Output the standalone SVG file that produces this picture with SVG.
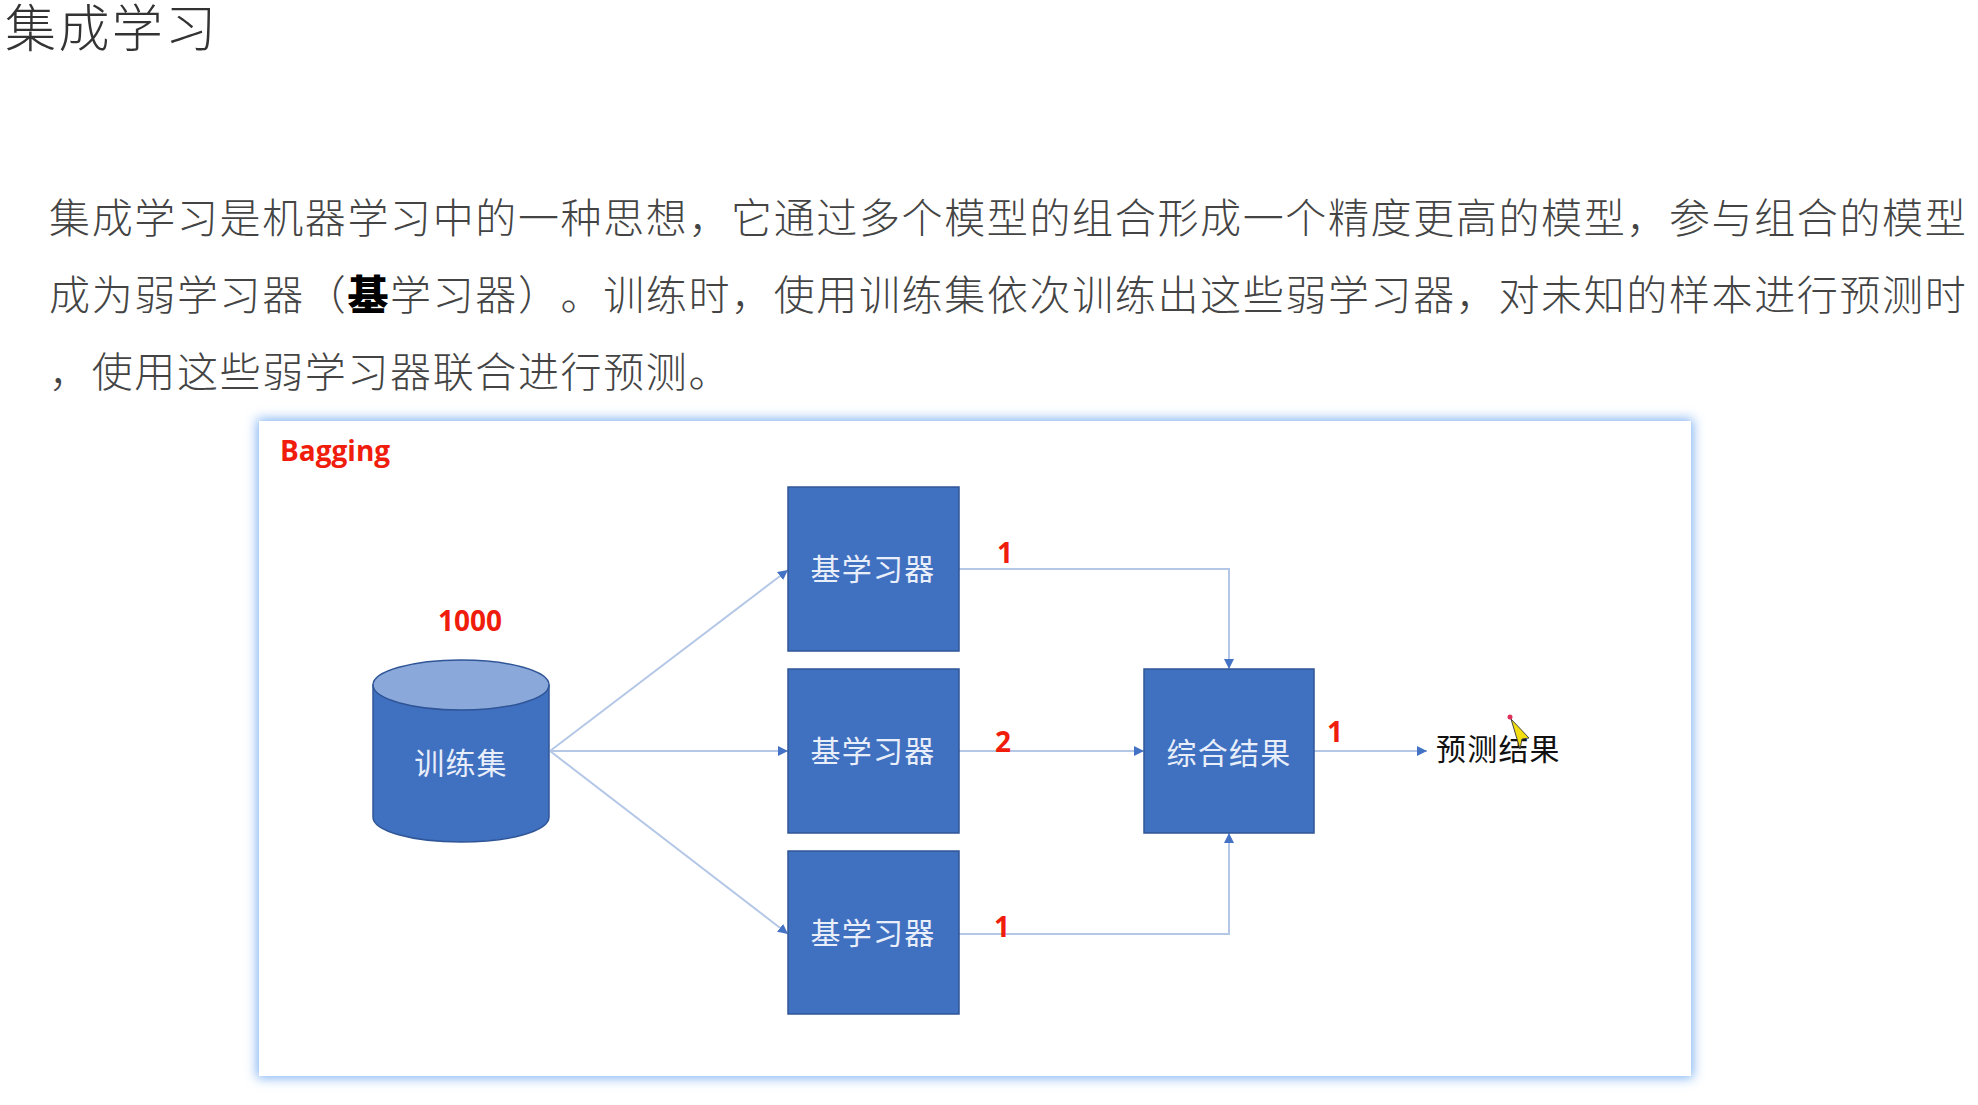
<svg xmlns="http://www.w3.org/2000/svg" width="1978" height="1105" viewBox="0 0 1978 1105">
<defs>
<filter id="glow" x="-5%" y="-8%" width="110%" height="116%"><feGaussianBlur stdDeviation="6"/></filter>
<marker id="arr" markerUnits="userSpaceOnUse" markerWidth="11" markerHeight="11" refX="10" refY="5" orient="auto"><path d="M0 0L10 5L0 10Z" fill="#4472c4"/></marker>
</defs>
<style>
text{font-family:"Noto Sans CJK SC","Liberation Sans",sans-serif;font-kerning:none;text-spacing-trim:space-all}
.body{font-size:41px;letter-spacing:1.63px;fill:#444;font-weight:300}
.box{fill:#4070c0;stroke:#2f5597;stroke-width:1.5}
.lbl{font-size:30px;fill:#e8eefa;text-anchor:middle;letter-spacing:1.2px}
.red{font-family:"Open Sans","Liberation Sans",sans-serif;font-size:28px;font-weight:700;fill:#f01c0c}
.con{fill:none;stroke:#b4c7e7;stroke-width:2;marker-end:url(#arr)}
</style>
<rect width="1978" height="1105" fill="#fff"/>
<text id="title" x="5" y="47" style="font-size:51px;letter-spacing:2.4px;fill:#333;font-weight:300">集成学习</text>
<g id="paragraph">
<text class="body" x="49" y="233">集成学习是机器学习中的一种思想，它通过多个模型的组合形成一个精度更高的模型，参与组合的模型</text>
<text class="body" x="49" y="310">成为弱学习器（<tspan style="font-weight:900;fill:#000">基</tspan>学习器）。训练时，使用训练集依次训练出这些弱学习器，对未知的样本进行预测时</text>
<text class="body" x="49" y="387">，使用这些弱学习器联合进行预测。</text>
</g>
<g id="panel">
<rect x="257" y="419" width="1436" height="659" fill="#7fb2f2" filter="url(#glow)"/>
<rect x="259" y="421" width="1432" height="655" fill="#fff"/>
<text class="red" x="280" y="461">Bagging</text>
</g>
<g id="connectors">
<path class="con" d="M550 751L788 570"/>
<path class="con" d="M550 751H788"/>
<path class="con" d="M550 751L788 934"/>
<path class="con" d="M959 569H1229V669"/>
<path class="con" d="M959 751H1144"/>
<path class="con" d="M959 934H1229V833"/>
<path class="con" d="M1314 751H1427"/>
</g>
<g id="n-train">
<path class="box" d="M373 685V817C373 831 412 842 461 842S549 831 549 817V685Z"/>
<ellipse cx="461" cy="685" rx="88" ry="25" fill="#8aa9da" stroke="#2f5597" stroke-width="1.5"/>
<text class="lbl" x="461" y="774">训练集</text>
<text class="red" x="470" y="631" text-anchor="middle">1000</text>
</g>
<g id="n-base1"><rect class="box" x="788" y="487" width="171" height="164"/><text class="lbl" x="873" y="580">基学习器</text></g>
<g id="n-base2"><rect class="box" x="788" y="669" width="171" height="164"/><text class="lbl" x="873" y="762">基学习器</text></g>
<g id="n-base3"><rect class="box" x="788" y="851" width="171" height="163"/><text class="lbl" x="873" y="944">基学习器</text></g>
<g id="n-merge"><rect class="box" x="1144" y="669" width="170" height="164"/><text class="lbl" x="1229" y="764">综合结果</text></g>
<g id="n-result"><text x="1436" y="760" style="font-size:30px;fill:#111;letter-spacing:1.2px">预测结果</text></g>
<g id="labels">
<text class="red" x="997" y="563">1</text>
<text class="red" x="995" y="752">2</text>
<text class="red" x="994" y="937">1</text>
<text class="red" x="1327" y="742">1</text>
</g>
<g id="cursor"><path d="M1511 719L1529 738L1522 739L1520 749Z" fill="#f2de10" stroke="#444" stroke-width="1"/><circle cx="1510" cy="717" r="2.5" fill="#e0305a"/></g>
</svg>
